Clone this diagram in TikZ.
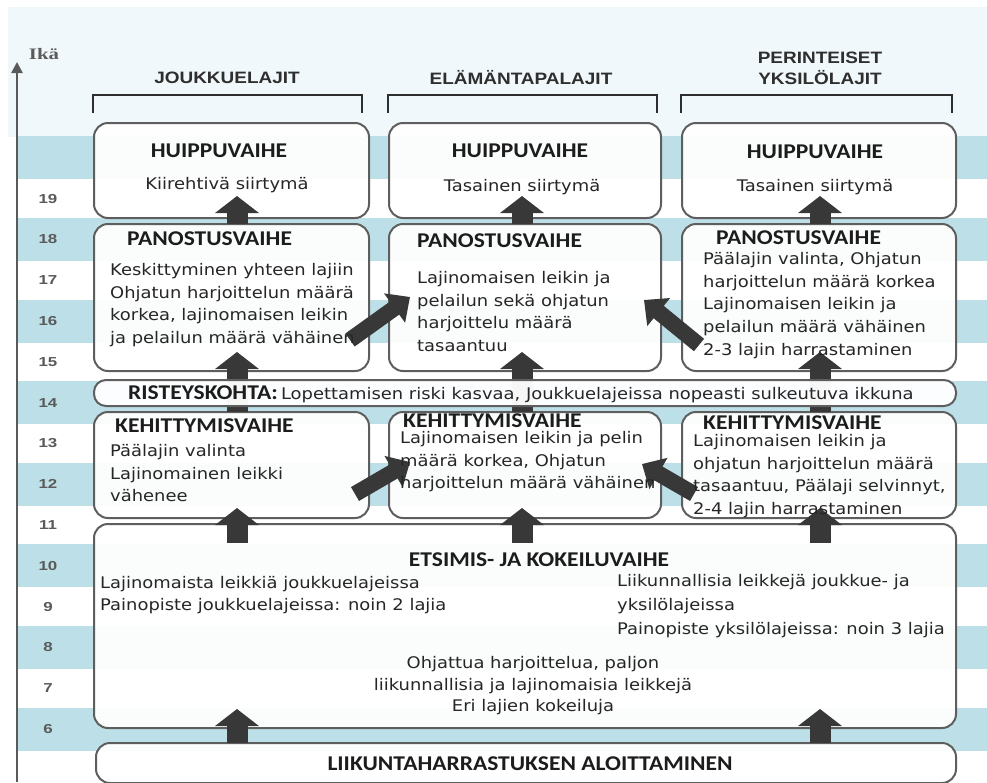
\documentclass[tikz,border=0pt]{standalone}
\usepackage{fontspec}
\usetikzlibrary{arrows.meta}
\setmainfont{DejaVu Sans}
\newfontfamily\bodyf[FakeStretch=1.12]{DejaVu Sans}
\newfontfamily\ttlf[FakeStretch=1.12]{Carlito}
\newfontfamily\hdrf[FakeStretch=1.15]{Liberation Sans}
\newfontfamily\axf[FakeStretch=1.3]{Liberation Sans}
\newfontfamily\ikaf[FakeStretch=1.3]{Liberation Serif}
\definecolor{stripe}{HTML}{BDE0E8}
\definecolor{palebg}{HTML}{F1F8FB}
\definecolor{boxc}{HTML}{5E5E5E}
\definecolor{arrc}{HTML}{383838}
\definecolor{bodc}{HTML}{262626}
\definecolor{ttlc}{HTML}{1C1C1C}
\definecolor{hdrc}{HTML}{2E2E2E}
\definecolor{axc}{HTML}{5A5A5A}
\tikzset{
  box/.style={draw=boxc, line width=2pt, rounded corners=14pt, fill=white, fill opacity=0.94, text opacity=1, inner sep=0pt, anchor=north west},
  ttl/.style={font=\ttlf\bfseries\fontsize{21}{24}\selectfont, text=ttlc, inner sep=0pt},
  bod/.style={font=\bodyf\fontsize{16}{22.7}\selectfont, text=bodc, inner sep=0pt, align=left},
  hdr/.style={font=\hdrf\bfseries\fontsize{16.5}{19}\selectfont, text=hdrc, inner sep=0pt},
  agel/.style={font=\axf\bfseries\fontsize{13}{14}\selectfont, text=axc, inner sep=0pt},
  blk/.style={draw=arrc, line width=21pt, -{Triangle[width=43pt,length=17pt]}},
  dgl/.style={draw=arrc, line width=16pt, -{Triangle[width=35pt,length=19pt]}},
  brk/.style={draw=hdrc, line width=2.6pt}
}
\begin{document}
\begin{tikzpicture}[x=1pt,y=-1pt]
\useasboundingbox (0,0) rectangle (987,782);
% backgrounds
\fill[white] (0,0) rectangle (987,782);
\fill[palebg] (8,7) rectangle (987,137);
\foreach \a in {6,8,...,20} {
  \fill[stripe] (18,{729-(\a-6)*40.8-21.5}) rectangle (987,{729-(\a-6)*40.8+21.5});
}
% axis
\coordinate (axb) at (17,782);
\coordinate (axt) at (17,62);
\draw[draw=axc, line width=2.4pt, -{Triangle[width=11pt,length=11pt]}] (axb) -- (axt);
\node[font=\ikaf\bfseries\fontsize{16}{18}\selectfont, text=axc, inner sep=0pt, anchor=base] (ika) at (44,59) {Ikä};
\foreach \a in {6,...,19} {
  \node[agel] (age\a) at (48,{729-(\a-6)*40.8}) {\a};
}
% headers
\node[hdr] (h1) at (227,78) {JOUKKUELAJIT};
\node[hdr] (h2) at (521,78) {ELÄMÄNTAPALAJIT};
\node[hdr] (h3a) at (820,58) {PERINTEISET};
\node[hdr] (h3b) at (820,78) {YKSILÖLAJIT};
\coordinate (b1a) at (93,113); \coordinate (b1b) at (93,95); \coordinate (b1c) at (362,95); \coordinate (b1d) at (362,113);
\coordinate (b2a) at (388,113); \coordinate (b2b) at (388,95); \coordinate (b2c) at (657,95); \coordinate (b2d) at (657,113);
\coordinate (b3a) at (681,113); \coordinate (b3b) at (681,95); \coordinate (b3c) at (952,95); \coordinate (b3d) at (952,113);
\draw[brk] (b1a) -- (b1b) -- (b1c) -- (b1d);
\draw[brk] (b2a) -- (b2b) -- (b2c) -- (b2d);
\draw[brk] (b3a) -- (b3b) -- (b3c) -- (b3d);
% boxes
\node[box, minimum width=275pt, minimum height=95pt] (hu1) at (93,122) {};
\node[box, minimum width=272pt, minimum height=95pt] (hu2) at (388,122) {};
\node[box, minimum width=274pt, minimum height=95pt] (hu3) at (681,122) {};
\node[box, minimum width=275pt, minimum height=147pt] (pa1) at (93,223) {};
\node[box, minimum width=272pt, minimum height=147pt] (pa2) at (388,223) {};
\node[box, minimum width=274pt, minimum height=147pt] (pa3) at (681,223) {};
\node[box, minimum width=275pt, minimum height=106pt] (ke1) at (93,411) {};
\node[box, minimum width=272pt, minimum height=106pt] (ke2) at (388,411) {};
\node[box, minimum width=274pt, minimum height=106pt] (ke3) at (681,411) {};
\node[box, minimum width=862pt, minimum height=204pt] (et) at (93,523) {};
\node[box, minimum width=860pt, minimum height=40pt] (li) at (95,742) {};
% arrows under the crossing box
\coordinate (k1s) at (237,412); \coordinate (k1e) at (237,352);
\coordinate (k2s) at (522,412); \coordinate (k2e) at (522,352);
\coordinate (k3s) at (820,412); \coordinate (k3e) at (820,352);
\draw[blk] (k1s) -- (k1e);
\draw[blk] (k2s) -- (k2e);
\draw[blk] (k3s) -- (k3e);
\node[box, rounded corners=12pt, fill opacity=0.96, minimum width=862pt, minimum height=26pt] (ri) at (93,379) {};
% vertical arrows
\coordinate (p1s) at (237,224); \coordinate (p1e) at (237,196);
\coordinate (p2s) at (522,224); \coordinate (p2e) at (522,196);
\coordinate (p3s) at (820,224); \coordinate (p3e) at (820,196);
\draw[blk] (p1s) -- (p1e);
\draw[blk] (p2s) -- (p2e);
\draw[blk] (p3s) -- (p3e);
\coordinate (e1s) at (237,543); \coordinate (e1e) at (237,508);
\coordinate (e2s) at (522,543); \coordinate (e2e) at (522,508);
\coordinate (e3s) at (820,543); \coordinate (e3e) at (820,508);
\draw[blk] (e1s) -- (e1e);
\draw[blk] (e2s) -- (e2e);
\draw[blk] (e3s) -- (e3e);
\coordinate (l1s) at (237,743); \coordinate (l1e) at (237,709);
\coordinate (l2s) at (820,743); \coordinate (l2e) at (820,709);
\draw[blk] (l1s) -- (l1e);
\draw[blk] (l2s) -- (l2e);
% diagonal arrows
\coordinate (d1s) at (350,340); \coordinate (d1e) at (410,297);
\coordinate (d2s) at (699,345); \coordinate (d2e) at (644,300);
\coordinate (d3s) at (355,494); \coordinate (d3e) at (410,462);
\coordinate (d4s) at (694,494); \coordinate (d4e) at (642,464);
\draw[dgl] (d1s) -- (d1e);
\draw[dgl] (d2s) -- (d2e);
\draw[dgl] (d3s) -- (d3e);
\draw[dgl] (d4s) -- (d4e);
% texts: huippuvaihe
\node[ttl, anchor=base] (t11) at (219,157) {HUIPPUVAIHE};
\node[ttl, anchor=base] (t12) at (520,157) {HUIPPUVAIHE};
\node[ttl, anchor=base] (t13) at (815,158) {HUIPPUVAIHE};
\node[bod, anchor=base] (x11) at (227,189) {Kiirehtivä siirtymä};
\node[bod, anchor=base] (x12) at (522,191) {Tasainen siirtymä};
\node[bod, anchor=base] (x13) at (815,191) {Tasainen siirtymä};
% panostusvaihe
\node[ttl, anchor=base west] (t21) at (127,245) {PANOSTUSVAIHE};
\node[ttl, anchor=base west] (t22) at (417,247) {PANOSTUSVAIHE};
\node[ttl, anchor=base west] (t23) at (716,244) {PANOSTUSVAIHE};
\node[bod, anchor=north west] (x21) at (110,263) {Keskittyminen yhteen lajiin\\Ohjatun harjoittelun määrä\\korkea, lajinomaisen leikin\\ja pelailun määrä vähäinen};
\node[bod, anchor=north west] (x22) at (417,271) {Lajinomaisen leikin ja\\pelailun sekä ohjatun\\harjoittelu määrä\\tasaantuu};
\node[bod, anchor=north west] (x23) at (703,252) {Päälajin valinta, Ohjatun\\harjoittelun määrä korkea\\Lajinomaisen leikin ja\\pelailun määrä vähäinen\\2-3 lajin harrastaminen};
% risteyskohta
\node[anchor=base west, inner sep=0pt] (rt) at (128,399) {{\ttlf\bfseries\fontsize{21}{24}\selectfont\color{ttlc}RISTEYSKOHTA:} {\bodyf\fontsize{16}{20}\selectfont\color{bodc}Lopettamisen riski kasvaa, Joukkuelajeissa nopeasti sulkeutuva ikkuna}};
% kehittymisvaihe
\node[ttl, anchor=base west] (t31) at (115,432) {KEHITTYMISVAIHE};
\node[ttl, anchor=base west] (t32) at (403,427) {KEHITTYMISVAIHE};
\node[ttl, anchor=base west] (t33) at (703,429) {KEHITTYMISVAIHE};
\node[bod, anchor=north west] (x31) at (110,444) {Päälajin valinta\\Lajinomainen leikki\\vähenee};
\node[bod, anchor=north west] (x32) at (400,431) {Lajinomaisen leikin ja pelin\\määrä korkea, Ohjatun\\harjoittelun määrä vähäinen};
\node[bod, anchor=north west] (x33) at (693,434) {Lajinomaisen leikin ja\\ohjatun harjoittelun määrä\\tasaantuu, Päälaji selvinnyt,\\2-4 lajin harrastaminen};
% etsimis
\node[ttl, anchor=base] (t4) at (539,566) {ETSIMIS- JA KOKEILUVAIHE};
\node[bod, anchor=north west, font=\bodyf\fontsize{16}{22}\selectfont] (x41) at (100,576) {Lajinomaista leikkiä joukkuelajeissa\\Painopiste joukkuelajeissa: noin 2 lajia};
\node[bod, anchor=north west, font=\bodyf\fontsize{16}{24}\selectfont] (x42) at (617,574) {Liikunnallisia leikkejä joukkue- ja\\yksilölajeissa\\Painopiste yksilölajeissa: noin 3 lajia};
\node[bod, anchor=north, align=center, font=\bodyf\fontsize{16}{21.7}\selectfont] (x43) at (533,656) {Ohjattua harjoittelua, paljon\\liikunnallisia ja lajinomaisia leikkejä\\Eri lajien kokeiluja};
% aloittaminen
\node[ttl, anchor=base] (t5) at (530,770) {LIIKUNTAHARRASTUKSEN ALOITTAMINEN};
\end{tikzpicture}
\end{document}
